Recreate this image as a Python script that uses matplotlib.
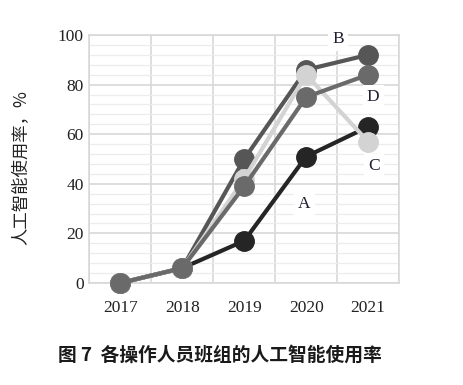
import numpy as np
import matplotlib.pyplot as plt
from matplotlib.ticker import MultipleLocator

years = ['2017', '2018', '2019', '2020', '2021']
series_names = ['A', 'B', 'C', 'D']
values_a = [0, 6, 17, 51, 63]
values_b = [0, 6, 50, 86, 92]
values_c = [0, 6, 42, 84, 57]
values_d = [0, 6, 39, 75, 84]

colors = {'A': '#252525', 'B': '#565656', 'C': '#d3d3d3', 'D': '#6a6a6a'}
label_pos = {'A': (2.97, 32), 'B': (3.52, 98.5), 'C': (4.1, 47), 'D': (4.08, 75)}

plt.rcParams['font.family'] = ['Liberation Serif', 'Noto Sans CJK SC']

fig = plt.figure(figsize=(4.63, 3.85), dpi=100)
ax = fig.add_axes([0.193, 0.265, 0.669, 0.644])

x = np.arange(len(years))
data = {'A': values_a, 'B': values_b, 'C': values_c, 'D': values_d}
for name in series_names:
    ax.plot(x, data[name], color=colors[name], lw=3.0, marker='o', ms=14,
            clip_on=False, zorder=3)

for name in series_names:
    lx, ly = label_pos[name]
    ax.text(lx, ly, name, fontsize=12.5, color='#1e1e30', ha='center', va='center',
            zorder=4, bbox=dict(facecolor='white', edgecolor='none', pad=3))

ax.set_xlim(-0.5, 4.5)
ax.set_ylim(0, 100)
ax.set_xticks(x)
ax.set_xticklabels(years)
ax.xaxis.set_minor_locator(MultipleLocator(1, offset=0.5))
ax.yaxis.set_major_locator(MultipleLocator(20))
ax.yaxis.set_minor_locator(MultipleLocator(4))
ax.grid(which='minor', axis='x', color='#d8d8d8', lw=1.2)
ax.grid(which='major', axis='y', color='#d8d8d8', lw=1.2)
ax.grid(which='minor', axis='y', color='#ececec', lw=0.9)
ax.set_axisbelow(True)
ax.tick_params(which='both', length=0, labelsize=12.5, colors='#222222')
ax.tick_params(axis='x', pad=12)
ax.tick_params(axis='y', pad=4)
for s in ax.spines.values():
    s.set_color('#d8d8d8')
    s.set_linewidth(1.2)

fig.text(0.045, 0.565, '人工智能使用率，%', rotation=90, ha='center', va='center',
         fontsize=12.5, family=['Noto Sans CJK SC'], color='#222222')
fig.text(0.125, 0.078, '图 7  各操作人员班组的人工智能使用率', ha='left', va='center',
         fontsize=13.5, fontweight='bold', family=['Noto Sans CJK SC'], color='#1a1a1a')

fig.savefig('out.png', dpi=100)
